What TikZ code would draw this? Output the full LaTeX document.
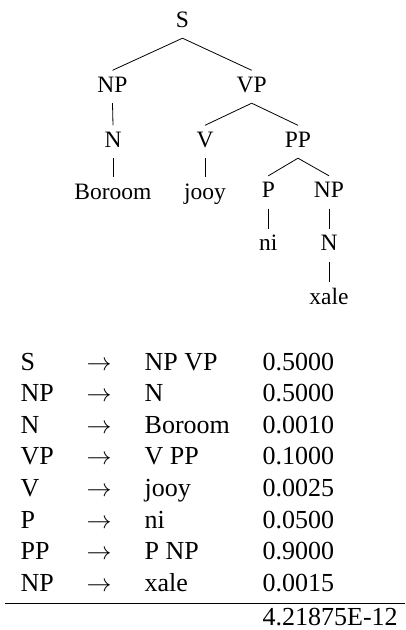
\documentclass[tikz,border=0pt]{standalone}
\usepackage{fontspec}
\setmainfont{Liberation Serif}
\begin{document}
\begin{tikzpicture}[x=1pt,y=-1pt,
  tn/.style={anchor=base,inner xsep=0pt,inner ysep=5pt,text height=16.5pt,text depth=6pt,font=\fontsize{23.5}{28}\selectfont},
  cell/.style={anchor=base west,inner sep=0pt,font=\fontsize{26}{30}\selectfont},
  edge/.style={line width=0.8pt,black}]
\useasboundingbox (0,0) rectangle (406,630);
% tree
\node[tn] (s) at (182.5,27) {S};
\node[tn] (np) at (112.5,92) {NP};
\node[tn] (vp) at (251.7,92) {VP};
\node[tn] (n) at (113,147) {N};
\node[tn] (v) at (205,147) {V};
\node[tn] (pp) at (298,147) {PP};
\node[tn] (boroom) at (113,199) {Boroom};
\node[tn] (jooy) at (205,199) {jooy};
\node[tn] (p) at (268.3,197.5) {P};
\node[tn] (np2) at (329,197.5) {NP};
\node[tn] (ni) at (268.3,250.7) {ni};
\node[tn] (n2) at (329,250.7) {N};
\node[tn] (xale) at (329,304) {xale};
\draw[edge] (s.south) -- (np.north);
\draw[edge] (s.south) -- (vp.north);
\draw[edge] (np.south) -- (n.north);
\draw[edge] (n.south) -- (boroom.north);
\draw[edge] (vp.south) -- (v.north);
\draw[edge] (vp.south) -- (pp.north);
\draw[edge] (v.south) -- (jooy.north);
\draw[edge] (pp.south) -- (p.north);
\draw[edge] (pp.south) -- (np2.north);
\draw[edge] (p.south) -- (ni.north);
\draw[edge] (np2.south) -- (n2.north);
\draw[edge] (n2.south) -- (xale.north);
% table
\foreach \i/\a/\b/\c in {0/S/NP VP/0.5000, 1/NP/N/0.5000, 2/N/Boroom/0.0010, 3/VP/V PP/0.1000, 4/V/jooy/0.0025, 5/P/ni/0.0500, 6/PP/P NP/0.9000, 7/NP/xale/0.0015}{
  \node[cell] (l\i) at (20.5,370+31.6*\i) {\a};
  \node[cell] (r\i) at (86.5,370+31.6*\i) {$\rightarrow$};
  \node[cell] (h\i) at (144.5,370+31.6*\i) {\b};
  \node[cell] (p\i) at (262.5,370+31.6*\i) {\c};
}
\coordinate (rulel) at (5,603.3);
\coordinate (ruler) at (405,603.3);
\draw[line width=0.8pt] (rulel) -- (ruler);
\node[cell] (total) at (262.5,625) {4.21875E-12};
\end{tikzpicture}
\end{document}
